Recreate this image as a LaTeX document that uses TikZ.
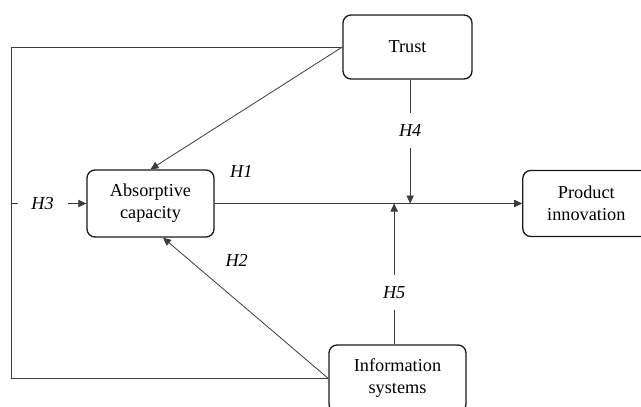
\documentclass[tikz,border=0pt]{standalone}
\usepackage{fontspec}
\setmainfont{Liberation Serif}
\usepackage{tikz}
\usetikzlibrary{arrows.meta,positioning,calc}
\definecolor{boxink}{HTML}{1A1A1A}
\definecolor{lineink}{HTML}{3C3C3C}
\tikzset{
  % ---- construct boxes ------------------------------------------------
  cbox/.style={
    draw=boxink, line width=1pt, fill=white, rounded corners=6pt,
    align=center, inner sep=0pt,
    font=\fontsize{13.7}{16.5}\selectfont},
  hlabel/.style={font=\fontsize{13.7}{16.5}\selectfont\itshape,
    fill=white, inner sep=0pt},
  % ---- connections ----------------------------------------------------
  hline/.style={draw=lineink, line width=0.6pt},
  hflow/.style={hline, -{Triangle[length=6pt,width=5.5pt]}},
}
\begin{document}
\begin{tikzpicture}[x=0.75pt, y=-0.75pt]
\useasboundingbox (0,0) rectangle (641,406);

% ---------------- constructs -----------------------------------------
\node[cbox, minimum width=95.25pt, minimum height=50.25pt] (absorb)
  at (150.5,203.5) {Absorptive\\capacity};
\node[cbox, minimum width=96.75pt, minimum height=48pt] (trust)
  at (407.5,47) {Trust};
\node[cbox, minimum width=95.25pt, minimum height=49.5pt,
      right=230.6pt of absorb] (product) {Product\\innovation};
\node[cbox, minimum width=102.75pt, minimum height=50.25pt] (info)
  at (397.5,378.5) {Information\\systems};

\coordinate (lft) at (11,0);
\coordinate (h3start) at (lft |- absorb.west);

% ---------------- hypotheses -----------------------------------------
\draw[hline] (trust.west) -- (trust.west -| lft) |- (info.west);
\draw[hflow] (trust.west) -- (absorb.north);
\draw[hflow] (info.west) -- ([xshift=9.4pt]absorb.south);

\draw[hflow] (h3start) -- node[hlabel, pos=0.42, minimum width=37.5pt]
  {H3} (absorb.west);

\draw[hflow] (absorb.east) -- (product.west);
\node[hlabel, fill=none] (h1) at ([xshift=20pt,yshift=-1.5pt]absorb.north east) {H1};
\node[hlabel, fill=none] (h2) at ([xshift=16.5pt,yshift=-17.25pt]absorb.south east) {H2};

\draw[hflow] ([xshift=2pt]trust.south) -- node[hlabel, pos=0.41, minimum height=26pt]
  {H4} ([xshift=2pt]trust.south |- absorb.east);
\draw[hflow] ([xshift=-2.5pt]info.north) -- node[hlabel, pos=0.37, minimum height=26pt]
  {H5} ([xshift=-2.5pt]info.north |- absorb.east);

\end{tikzpicture}
\end{document}
